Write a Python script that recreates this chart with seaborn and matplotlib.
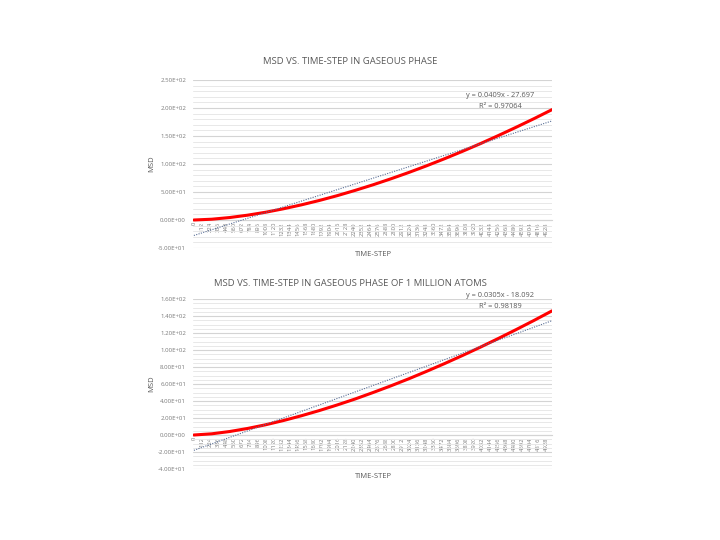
import matplotlib
matplotlib.use("Agg")
import matplotlib.pyplot as plt
from matplotlib.ticker import MultipleLocator, FuncFormatter, FixedLocator
import seaborn as sns
import pandas as pd

sns.set_theme(style="white")
plt.rcParams['font.family'] = ['Open Sans', 'DejaVu Sans']

# ---- data ----
steps = [0, 250, 500, 750, 1000, 1250, 1500, 1750, 2000, 2250, 2500,
         2750, 3000, 3250, 3500, 3750, 4000, 4250, 4500, 4750, 5000]
msd_gas = [0.0, 1.4, 4.4, 8.6, 13.8, 20.0, 27.0, 34.8, 43.4, 52.8, 62.8,
           73.5, 84.8, 96.8, 109.4, 122.6, 136.3, 150.7, 165.6, 181.0, 197.0]
msd_million = [0.0, 1.4, 4.1, 7.7, 12.0, 17.0, 22.6, 28.7, 35.3, 42.3, 49.9,
               57.8, 66.1, 74.9, 84.0, 93.5, 103.3, 113.5, 124.0, 134.8, 146.0]

trend1 = (0.0409, -27.697, "0.97064")
trend2 = (0.0305, -18.092, "0.98189")

xtick_labels = [0, 112, 224, 336, 448, 560, 672, 784, 896, 1008, 1120, 1232,
                1344, 1456, 1568, 1680, 1792, 1904, 2016, 2128, 2240, 2352,
                2464, 2576, 2688, 2800, 2912, 3024, 3136, 3248, 3360, 3472,
                3584, 3696, 3808, 3920, 4032, 4144, 4256, 4368, 4480, 4592,
                4704, 4816, 4928]

titles = ["MSD VS. TIME-STEP IN GASEOUS PHASE",
          "MSD VS. TIME-STEP IN GASEOUS PHASE OF 1 MILLION ATOMS"]

W, H = 720, 540
fig = plt.figure(figsize=(7.2, 5.4), dpi=100)

def fx(px):
    return px / W

def fy(py):
    return 1 - py / H

panels = [
    dict(vals=msd_gas, trend=trend1, title=titles[0], top=80, bottom=248,
         ylim=(-50, 250), major=50, minor=10, title_y=62, xlab_y=254,
         eq_y=(0.905, 0.845)),
    dict(vals=msd_million, trend=trend2, title=titles[1], top=299, bottom=469,
         ylim=(-40, 160), major=20, minor=5, title_y=283, xlab_y=476,
         eq_y=(1.018, 0.958)),
]

left_px, right_px = 193, 552
grey_txt = "#7a7a7a"
for p in panels:
    ax = fig.add_axes([fx(left_px), fy(p['bottom']), fx(right_px - left_px),
                       (p['bottom'] - p['top']) / H])
    df = pd.DataFrame({"step": steps, "msd": p['vals']})
    slope, icpt, r2 = p['trend']
    tx = [steps[0], steps[-1]]
    tdf = pd.DataFrame({"step": tx,
                        "fit": [slope * (tx[0] + 1) + icpt, slope * (tx[1] + 1) + icpt]})
    sns.lineplot(data=df, x="step", y="msd", ax=ax, color="#ff0000", linewidth=2.2, zorder=3)
    sns.lineplot(data=tdf, x="step", y="fit", ax=ax, color="#5a6f96", linewidth=0.8,
                 linestyle=(0, (1, 1.2)), zorder=4)
    ax.set_xlim(-12, 5001)
    ax.set_ylim(*p['ylim'])
    ax.yaxis.set_major_locator(MultipleLocator(p['major']))
    ax.yaxis.set_minor_locator(MultipleLocator(p['minor']))
    ax.yaxis.set_major_formatter(FuncFormatter(lambda v, pos: f"{v:.2E}"))
    ax.grid(which='major', axis='y', color='#d4d4d4', linewidth=0.8)
    ax.grid(which='minor', axis='y', color='#e8e8e8', linewidth=0.7)
    ax.grid(which='major', axis='x', visible=False)
    ax.set_axisbelow(True)
    for s in ['top', 'right', 'left']:
        ax.spines[s].set_visible(False)
    ax.spines['bottom'].set_position(('data', 0))
    ax.spines['bottom'].set_color('#d4d4d4')
    ax.spines['bottom'].set_linewidth(0.8)
    ax.xaxis.set_major_locator(FixedLocator(xtick_labels))
    ax.set_xticklabels([str(v) for v in xtick_labels], rotation=90, fontsize=4.2,
                       color=grey_txt)
    ax.tick_params(axis='x', length=0, pad=1.5)
    ax.tick_params(axis='y', length=0, pad=5, labelsize=4.4, labelcolor=grey_txt)
    ax.tick_params(axis='y', which='minor', length=0)
    ax.set_xlabel("")
    ax.set_ylabel("")
    ax.text(0.855, p['eq_y'][0], f"y = {slope}x - {abs(icpt)}", transform=ax.transAxes,
            ha='center', va='center', fontsize=5.3, color='#595959')
    ax.text(0.855, p['eq_y'][1], f"R² = {r2}", transform=ax.transAxes,
            ha='center', va='center', fontsize=5.3, color='#595959')
    fig.text(fx(350), fy(p['title_y']), p['title'], ha='center', va='center',
             fontsize=6.8, color='#595959')
    fig.text(fx(373), fy(p['xlab_y']), "TIME-STEP", ha='center', va='center',
             fontsize=5.5, color='#595959')
    fig.text(fx(152), fy((p['top'] + p['bottom']) / 2), "MSD", ha='center', va='center',
             rotation=90, fontsize=5.5, color='#595959')

fig.savefig("out.png", dpi=100, facecolor='white')
